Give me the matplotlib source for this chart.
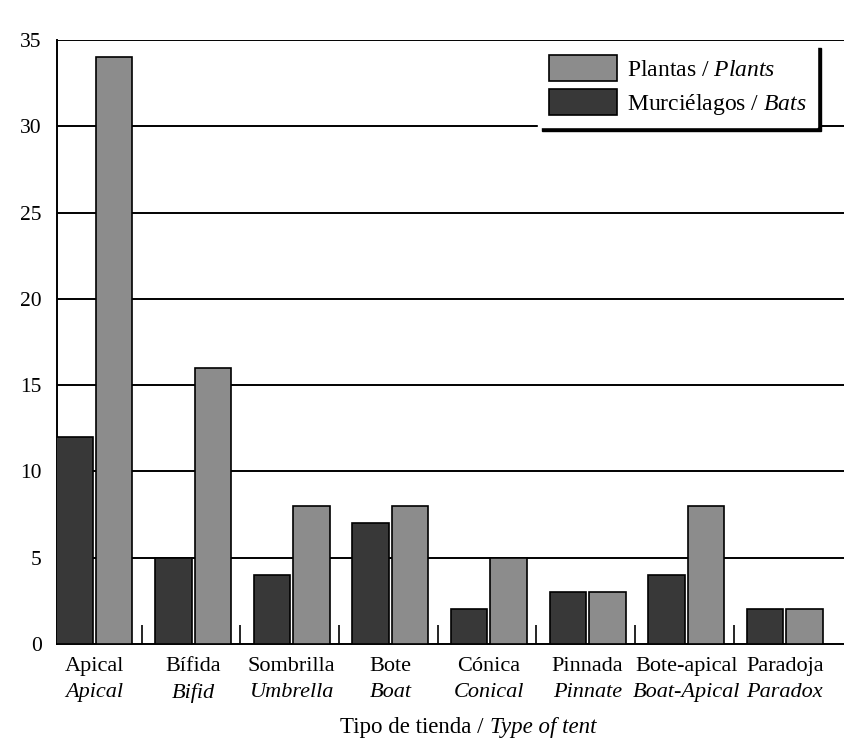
import numpy as np
import matplotlib.pyplot as plt
from matplotlib.transforms import blended_transform_factory

# datos
tent_es = ["Apical", "Bífida", "Sombrilla", "Bote", "Cónica", "Pinnada", "Bote-apical", "Paradoja"]
tent_en = ["Apical", "Bifid", "Umbrella", "Boat", "Conical", "Pinnate", "Boat-Apical", "Paradox"]
bats = [12, 5, 4, 7, 2, 3, 4, 2]
plants = [34, 16, 8, 8, 5, 3, 8, 2]
yticks = [0, 5, 10, 15, 20, 25, 30, 35]

plt.rcParams['font.family'] = ['Liberation Serif', 'DejaVu Serif']
plt.rcParams['mathtext.fontset'] = 'custom'
plt.rcParams['mathtext.rm'] = 'Liberation Serif'
plt.rcParams['mathtext.it'] = 'Liberation Serif:italic'

fig = plt.figure(figsize=(8.44, 7.44), dpi=100)
ax = fig.add_axes([0.0675, 0.1344, 0.9325, 0.8118])

x = np.arange(len(tent_es))
w = 0.37
ax.bar(x - w/2 - 0.015, bats, w, color='#383838', edgecolor='black', lw=1.2,
       label='Murciélagos', zorder=3)
ax.bar(x + w/2 + 0.015, plants, w, color='#8c8c8c', edgecolor='black', lw=1.2,
       label='Plantas', zorder=3)

ax.set_ylim(0, 35)
ax.set_xlim(-0.38, 7.6)
ax.set_yticks(yticks)
ax.tick_params(axis='y', length=0, pad=11, labelsize=15.5)
for v in yticks[1:]:
    ax.axhline(v, color='black', lw=1.4, zorder=1)

# ticks entre grupos
ax.set_xticks(x[:-1] + 0.48)
ax.set_xticklabels([])
ax.tick_params(axis='x', direction='in', length=14, width=1.2, color='black')

ax.spines['right'].set_visible(False)
ax.spines['top'].set_visible(False)
ax.spines['left'].set_linewidth(1.4)
ax.spines['bottom'].set_linewidth(1.4)

tr = blended_transform_factory(ax.transData, ax.transAxes)
for i in range(len(tent_es)):
    ax.text(x[i], -0.022, tent_es[i], transform=tr, ha='center', va='top', fontsize=16)
    ax.text(x[i], -0.064, tent_en[i], transform=tr, ha='center', va='top', fontsize=16,
            style='italic')

fig.text(0.58, 0.008, "Tipo de tienda / ", ha='right', va='bottom', fontsize=16.5)
fig.text(0.58, 0.008, "Type of tent", ha='left', va='bottom', fontsize=16.5, style='italic')

h, l = ax.get_legend_handles_labels()
leg = ax.legend(h[::-1], ["Plantas / $\\it{Plants}$", "Murciélagos / $\\it{Bats}$"],
                loc='upper right', bbox_to_anchor=(0.966, 0.993), fontsize=17,
                frameon=True, fancybox=False,
                shadow={'color': 'black', 'alpha': 1, 'ox': 3, 'oy': -3},
                handlelength=2.9, handleheight=1.3, handletextpad=0.4,
                borderpad=0.45, labelspacing=0.35, borderaxespad=0)
leg.get_frame().set_edgecolor('white')
leg.get_frame().set_facecolor('white')
leg.get_frame().set_alpha(1)

fig.savefig('out.png', dpi=100)
